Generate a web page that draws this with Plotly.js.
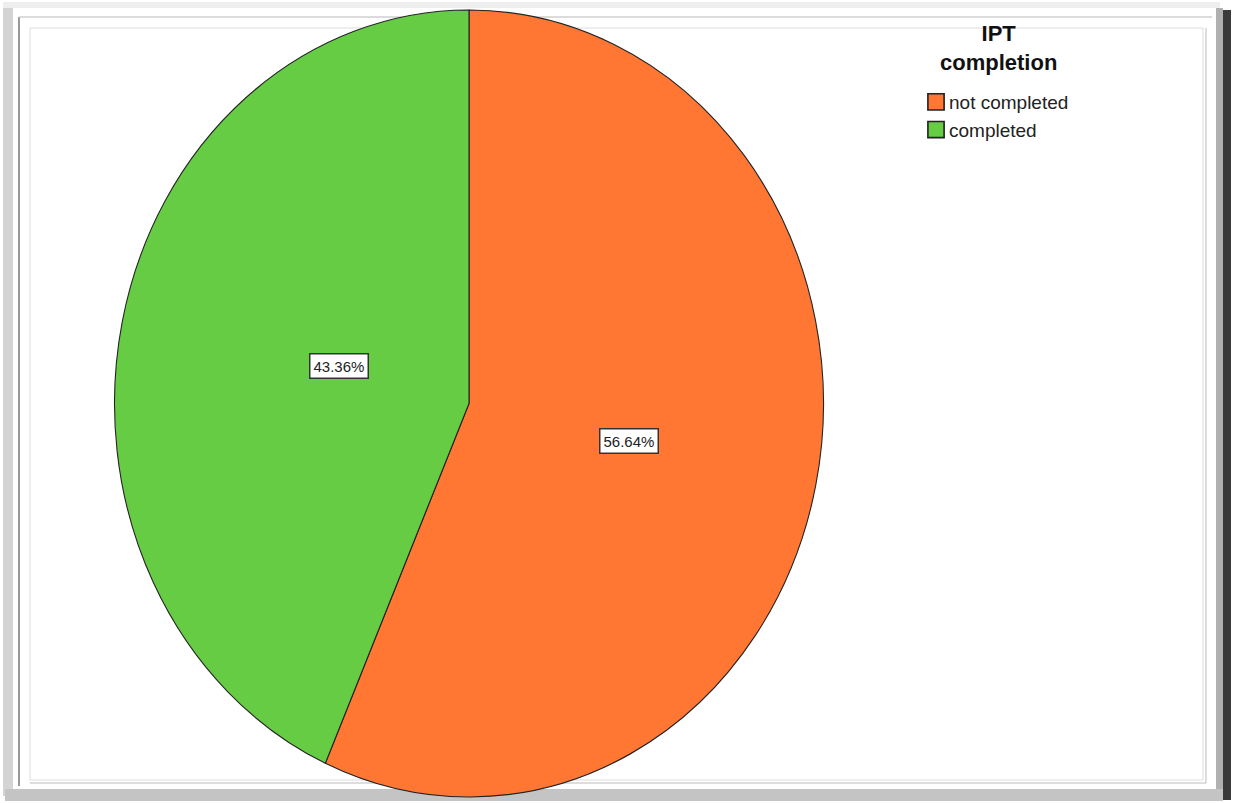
<!DOCTYPE html>
<html>
<head>
<meta charset="utf-8">
<script src="https://cdn.plot.ly/plotly-3.0.1.min.js"></script>
<style>html,body{margin:0;padding:0;background:#fff;}#chart{width:1233px;height:803px;}</style>
</head>
<body>
<div id="chart"></div>
<script>
const categories = ["not completed", "completed"];
const percents = [56.64, 43.36];
const colors = ["#FF7733", "#66CC44"];
const legendTitle = "IPT<br>completion";

const W = 1233, H = 803;
const cx = 469, cy = 403.5;
const Ry = 393.5, Rx = 354.5;       // the reference pie is slightly elliptical
const sx = Rx / Ry;
const dom = {
  x: [(cx - Ry) / W, (cx + Ry) / W],
  y: [(H - cy - Ry) / H, (H - cy + Ry) / H]
};

const FONT = "Liberation Sans, Arial, sans-serif";

// label boxes placed at slice mid-angles, computed from the data
const total = percents.reduce((a, b) => a + b, 0);
const annotations = [];
let start = 0;
percents.forEach((p, i) => {
  const mid = (start + p / 2) / total * 2 * Math.PI; // clockwise from 12 o'clock
  start += p;
  const f = 0.46;
  const px = cx + f * Rx * Math.sin(mid);
  const py = cy - f * Ry * Math.cos(mid);
  annotations.push({
    xref: "paper", yref: "paper",
    x: px / W, y: 1 - py / H,
    text: p.toFixed(2) + "%",
    showarrow: false,
    font: {family: FONT, size: 15, color: "#222"},
    bgcolor: "#ffffff",
    bordercolor: "#333",
    borderwidth: 1.5,
    borderpad: 3
  });
});

// legend title
annotations.push({
  xref: "paper", yref: "paper",
  x: 998 / W, y: 1 - 19 / H,
  xanchor: "center", yanchor: "top",
  text: "<b>" + legendTitle + "</b>",
  showarrow: false,
  align: "center",
  font: {family: FONT, size: 22, color: "#111"}
});

const trace = {
  type: "pie",
  labels: categories,
  values: percents,
  sort: false,
  direction: "clockwise",
  rotation: 0,
  marker: {colors: colors, line: {color: "#222", width: 1.2}},
  textinfo: "none",
  hoverinfo: "label+percent",
  domain: dom
};

const px2x = v => v / W, px2y = v => 1 - v / H;
const shapes = [
  {type: "rect", xref: "paper", yref: "paper", x0: px2x(3), x1: px2x(13), y0: px2y(796), y1: px2y(6), fillcolor: "#d4d4d4", line: {width: 0}, layer: "below"},
  {type: "rect", xref: "paper", yref: "paper", x0: px2x(3), x1: px2x(1220), y0: px2y(8), y1: px2y(2), fillcolor: "#eeeeee", line: {width: 0}, layer: "below"},
  {type: "rect", xref: "paper", yref: "paper", x0: px2x(1216), x1: px2x(1223), y0: px2y(800), y1: px2y(8), fillcolor: "#b0b0b0", line: {width: 0}, layer: "below"},
  {type: "rect", xref: "paper", yref: "paper", x0: px2x(1223), x1: px2x(1231), y0: px2y(800), y1: px2y(10), fillcolor: "#3a3a3a", line: {width: 0}, layer: "below"},
  {type: "rect", xref: "paper", yref: "paper", x0: px2x(5), x1: px2x(1223), y0: px2y(801), y1: px2y(789), fillcolor: "#c4c4c4", line: {width: 0}, layer: "below"},
  {type: "line", xref: "paper", yref: "paper", x0: px2x(19), x1: px2x(19), y0: px2y(17), y1: px2y(786), line: {color: "#777", width: 1.5}, layer: "below"},
  {type: "line", xref: "paper", yref: "paper", x0: px2x(19), x1: px2x(1212), y0: px2y(17), y1: px2y(17), line: {color: "#cfcfcf", width: 1.5}, layer: "below"},
  {type: "rect", xref: "paper", yref: "paper", x0: px2x(30), x1: px2x(1203), y0: px2y(780), y1: px2y(28), line: {color: "#dddddd", width: 1}, layer: "below"},
  {type: "line", xref: "paper", yref: "paper", x0: px2x(1206), x1: px2x(1206), y0: px2y(28), y1: px2y(783), line: {color: "#bbbbbb", width: 1}, layer: "below"},
  {type: "line", xref: "paper", yref: "paper", x0: px2x(30), x1: px2x(1206), y0: px2y(783), y1: px2y(783), line: {color: "#bbbbbb", width: 1}, layer: "below"}
];

const layout = {
  width: W, height: H,
  margin: {l: 0, r: 0, t: 0, b: 0},
  paper_bgcolor: "#ffffff",
  showlegend: true,
  legend: {
    x: 909 / W, y: 1 - 83 / H,
    xanchor: "left", yanchor: "top",
    bgcolor: "rgba(0,0,0,0)",
    font: {family: FONT, size: 19, color: "#222"},
    tracegroupgap: 0,
    itemwidth: 30
  },
  annotations: annotations,
  shapes: shapes
};

Plotly.newPlot("chart", [trace], layout, {displayModeBar: false, staticPlot: true}).then(gd => {
  // squeeze the pie horizontally about its centre to match the elliptical reference
  const pl = gd.querySelector(".pielayer");
  if (pl) {
    pl.style.transformOrigin = cx + "px " + cy + "px";
    pl.style.transform = "scale(" + sx + ",1)";
  }
  // enlarge legend swatches a little and move them next to the text
  gd.querySelectorAll(".legendpoints path").forEach(p => {
    p.setAttribute("transform", (p.getAttribute("transform") || "") + " translate(7,0) scale(1.35)");
  });
});
</script>
</body>
</html>
